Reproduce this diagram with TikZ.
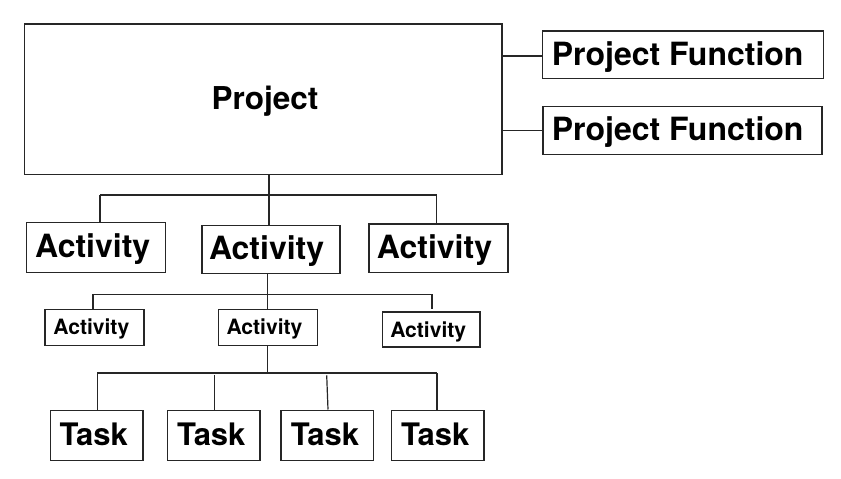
\documentclass[tikz,border=0pt]{standalone}
\usepackage{fontspec}
\setmainfont{TeX Gyre Heros}
\begin{document}
\begin{tikzpicture}[x=1pt,y=-1pt,
  box/.style={draw=black!85,line width=1.3pt,inner sep=0pt,font=\bfseries},
  big/.style={box,font=\bfseries\fontsize{32}{36}\selectfont,text height=25pt,text depth=4.6pt},
  small/.style={box,font=\bfseries\fontsize{21.1}{24}\selectfont,text height=17pt,text depth=1.8pt},
  taskbox/.style={box,font=\bfseries\fontsize{31}{34}\selectfont,text height=25pt,text depth=4.2pt,minimum width=92.3pt,minimum height=50pt},
  conn/.style={draw=black!85,line width=1.2pt}]
\useasboundingbox (0,0) rectangle (841,479);
% project
\node[big,font=\bfseries\fontsize{31.5}{36}\selectfont,minimum width=477.7pt,minimum height=150.3pt] (proj) at (263.2,99.2) {\hspace*{3.6pt}Project};
\node[big,minimum width=280.7pt,minimum height=47.7pt] (pf1) at (683,54.9) {\hspace*{-10.6pt}Project Function};
\node[big,minimum width=279pt,minimum height=48pt] (pf2) at (682.5,130.7) {\hspace*{-9.6pt}Project Function};
\draw[conn] (proj.east |- 0,56) coordinate (c1) -- (c1 -| pf1.west);
\draw[conn] (proj.east |- 0,130.7) coordinate (c2) -- (c2 -| pf2.west);
% level 1
\node[big,minimum width=139pt,minimum height=49.6pt] (a1) at (96,247.5) {\hspace*{-6.6pt}Activity};
\node[big,minimum width=138pt,minimum height=48pt] (a2) at (271,249.3) {\hspace*{-8.8pt}Activity};
\node[big,minimum width=139pt,minimum height=48.3pt] (a3) at (438.5,248.2) {\hspace*{-8pt}Activity};
\coordinate (h1l) at (100,195);
\coordinate (h1m) at (269,195);
\coordinate (h1r) at (436.7,195);
\draw[conn] (h1m |- proj.south) -- (h1m |- a2.north);
\draw[conn] (h1l) -- (h1r);
\draw[conn] (h1l) -- (h1l |- a1.north);
\draw[conn] (h1r) -- (h1r |- a3.north);
% level 2
\node[small,minimum width=99pt,minimum height=36pt] (b1) at (94.5,327.3) {\hspace*{-6.4pt}Activity};
\node[small,minimum width=99pt,minimum height=36pt] (b2) at (267.8,327.3) {\hspace*{-6.6pt}Activity};
\node[small,minimum width=97.7pt,minimum height=35pt] (b3) at (431.2,329.5) {\hspace*{-6pt}Activity};
\coordinate (h2l) at (93,294.3);
\coordinate (h2m) at (267.7,294.3);
\coordinate (h2r) at (432,294.3);
\coordinate (e2r) at (432,309.3);
\draw[conn] (h2m |- a2.south) -- (h2m |- b2.north);
\draw[conn] (h2l) -- (h2r);
\draw[conn] (h2l) -- (h2l |- b1.north);
\draw[conn] (h2r) -- (e2r);
% tasks
\node[taskbox] (t1) at (96.7,435.3) {\hspace*{-6pt}Task};
\node[taskbox] (t2) at (213.8,435.3) {\hspace*{-5pt}Task};
\node[taskbox] (t3) at (327.2,435.3) {\hspace*{-4.4pt}Task};
\node[taskbox] (t4) at (437.8,435.3) {\hspace*{-5.2pt}Task};
\coordinate (h3l) at (97.3,373);
\coordinate (h3m) at (267.7,373);
\coordinate (h3r) at (437,373);
\coordinate (v2) at (214.3,375.3);
\coordinate (v3) at (326.7,375.3);
\coordinate (e3) at (328,409.5);
\draw[conn] (h3m |- b2.south) -- (h3m);
\draw[conn] (h3l) -- (h3r);
\draw[conn] (h3l) -- (h3l |- t1.north);
\draw[conn] (v2) -- (v2 |- t2.north);
\draw[conn] (v3) -- (e3);
\draw[conn] (h3r) -- (h3r |- t4.north);
\end{tikzpicture}
\end{document}
